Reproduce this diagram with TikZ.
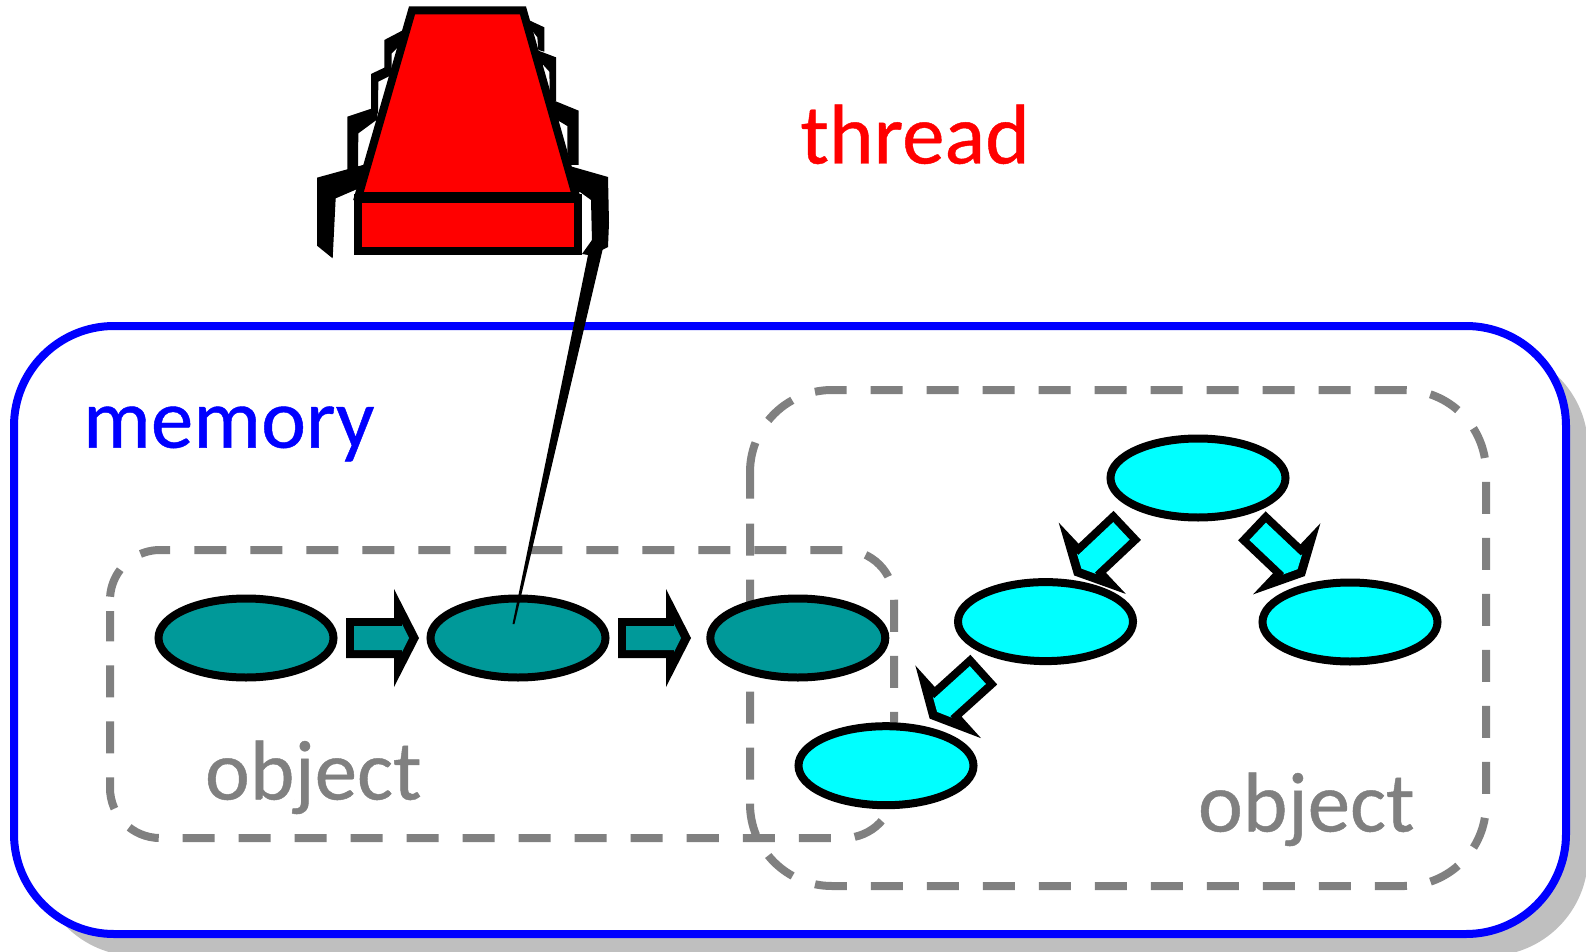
\documentclass[tikz,border=0pt]{standalone}
\usepackage{fontspec}
\setmainfont{Carlito}
\newfontfamily\labelfont{Carlito}[RawFeature={embolden=0.5}]
\usetikzlibrary{shapes.geometric,calc}
\definecolor{tealc}{RGB}{0,153,153}
\definecolor{cyanc}{RGB}{0,255,255}
\definecolor{bluec}{RGB}{0,0,255}
\definecolor{redc}{RGB}{255,0,0}
\definecolor{grayc}{RGB}{128,128,128}
\definecolor{shadowc}{RGB}{191,191,191}
\newcommand\bpt[2]{($(\tikztostart)!\bd pt+#1pt!(\tikztotarget)!\bn pt+#2pt!90:(\tikztotarget)$)}
\tikzset{
  x=1pt,y=-1pt,
  blobbase/.style={ellipse,draw=black,line width=8pt,inner sep=0pt,outer sep=0pt,minimum width=175pt,minimum height=79pt},
  tealblob/.style={blobbase,fill=tealc},
  cyanblob/.style={blobbase,fill=cyanc},
  regionline/.style={draw=grayc,line width=8pt,dash pattern=on 32pt off 24pt},
  regionsolid/.style={draw=grayc,line width=8pt},
  memorybox/.style={rectangle,draw=bluec,fill=white,line width=8pt,rounded corners=100pt,inner sep=0pt,outer sep=0pt,minimum width=1552pt,minimum height=608pt},
  label/.style={anchor=base west,inner sep=0pt,outer sep=0pt,font=\labelfont\fontsize{85}{85}\selectfont},
  blockat/.code 2 args={\def\bd{#1}\def\bn{#2}},
  blockouter/.style={to path={\bpt{0}{-20} -- \bpt{48}{-20} -- \bpt{48}{-49} -- \bpt{73}{0} -- \bpt{48}{49} -- \bpt{48}{20} -- \bpt{0}{20} -- cycle}},
  blockinner/.style={to path={\bpt{8}{-12} -- \bpt{56}{-12} -- \bpt{56}{-14} -- \bpt{63}{0} -- \bpt{56}{14} -- \bpt{56}{12} -- \bpt{8}{12} -- cycle}},
  threadpart/.style={draw=black,fill=redc,line width=8pt},
}
\newcommand\blockarrow[5]{%
  \fill[black,blockat={#3}{#4},blockouter] (#1) to (#2);
  \fill[#5,blockat={#3}{#4},blockinner] (#1) to (#2);}
\begin{document}
\begin{tikzpicture}
\useasboundingbox (0,0) rectangle (1586,952);
% shadow and memory
\fill[shadowc,rounded corners=100pt] (37,348) rectangle (1588,956);
\node[memorybox] (memory) at (790,630) {};
% left object region
\draw[regionline,rounded corners=50pt] (194.3,550) -- (894,550) -- (894,838) -- (110,838) -- (110,611);
\draw[regionsolid] plot[domain=176.2:142.7,samples=10] ({160+50*cos(\x)},{600-50*sin(\x)});
\draw[regionsolid] plot[domain=113:90,samples=8] ({160+50*cos(\x)},{600-50*sin(\x)}) -- (170,550);
% right object region
\draw[regionline,rounded corners=82pt] (870.7,390) -- (1486,390) -- (1486,886) -- (750,886) -- (750,522.7);
\draw[regionsolid] (750,498.5) -- plot[domain=180:159,samples=8] ({832+82*cos(\x)},{472-82*sin(\x)});
\draw[regionsolid] plot[domain=141:119,samples=8] ({832+82*cos(\x)},{472-82*sin(\x)});
\draw[regionsolid] plot[domain=102:90,samples=6] ({832+82*cos(\x)},{472-82*sin(\x)}) -- (846.7,390);
% labels
\node[label,text=bluec] (memlabel) at (83,447.7) {memory};
\node[label,text=redc] (thrlabel) at (800.5,163.5) {thread};
\node[label,text=grayc] (objlabelA) at (205,799.5) {object};
\node[label,text=grayc] (objlabelB) at (1198,831.5) {object};
% blobs
\node[tealblob] (e1) at (246,638) {};
\node[tealblob] (e2) at (518,638) {};
\node[tealblob] (e3) at (797.8,638) {};
\node[cyanblob] (c1) at (1198,478) {};
\node[cyanblob] (c2) at (1045.5,621.6) {};
\node[cyanblob] (c3) at (1350,622) {};
\node[cyanblob] (c4) at (886,765.7) {};
% block arrows
\blockarrow{e1}{e2}{100}{0}{tealc}
\blockarrow{e2}{e3}{100}{0}{tealc}
\blockarrow{c1}{c2}{84}{-14}{cyanc}
\blockarrow{c1}{c3}{72}{2.3}{cyanc}
\blockarrow{c2}{c4}{78}{-5.7}{cyanc}
% thread back spikes
\begin{scope}[shift={(290,0)},scale=1/3]
\fill[black] (81,533) -- (230,492) -- (230,555) -- (137,595) -- (128,775) -- (81,737) -- cycle;
\fill[black] (172,350) -- (262,320) -- (262,358) -- (205,400) -- (204,500) -- (225,495) -- (225,520) -- (172,520) -- cycle;
\fill[black] (243,222) -- (300,195) -- (305,225) -- (265,245) -- (264,340) -- (243,345) -- cycle;
\fill[black] (283,120) -- (340,90) -- (340,125) -- (305,160) -- (305,215) -- (283,215) -- cycle;
\fill[black] (780,300) -- (800,305) -- (866,332) -- (866,495) -- (840,495) -- (832,452) -- (832,378) -- (805,362) -- (790,362) -- cycle;
\fill[black] (725,145) -- (740,150) -- (798,172) -- (798,305) -- (780,300) -- (778,215) -- (760,195) -- (740,195) -- cycle;
\fill[black] (705,55) -- (763,82) -- (763,155) -- (745,150) -- (742,112) -- (725,90) -- (705,90) -- cycle;
\end{scope}
\fill[black] (565,165) -- (573,167) -- (608,177) -- (609,223) -- (608,247) -- (592,255) -- (592,242) -- (591,200) -- (580,192) -- (565,192) -- cycle;
% thread pointer wedge
\coordinate (wedgetop) at (592,240);
\coordinate (wedgeend) at ($(e2)+(-5.5,-14)$);
\fill[black] (wedgeend) -- ($(wedgeend)+(2,0)$) -- ($(wedgetop)+(11,8)$) -- (wedgetop) -- ($(wedgetop)+(-10,14)$) -- ($(wedgetop)+(-4,15)$) -- cycle;
% thread body
\draw[threadpart] (412,10.5) -- (523,10.5) -- (576,196) -- (358.5,196) -- cycle;
\node[rectangle,draw=black,fill=redc,line width=8pt,inner sep=0pt,outer sep=0pt,minimum width=219.5pt,minimum height=53pt] (base) at (467.75,224.5) {};
\draw[black,line width=10pt] (base.north west) -- (base.north east);
\end{tikzpicture}
\end{document}
